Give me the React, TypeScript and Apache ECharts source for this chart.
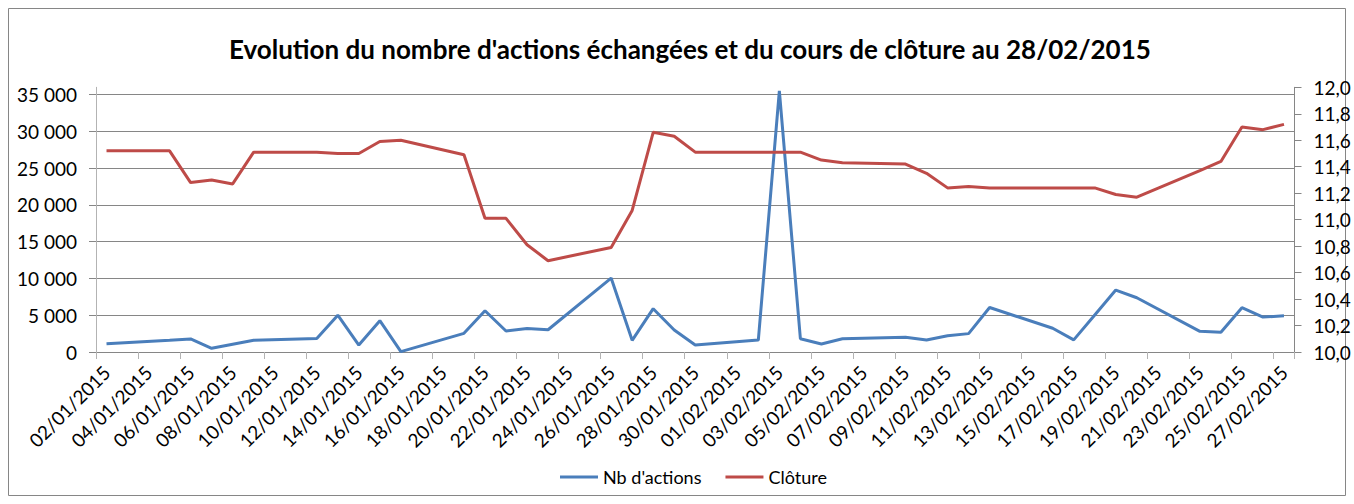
import React, { useEffect, useRef } from "react";
import * as echarts from "echarts";

// Calendar days of the axis (one category per day)
const dayLabels = [
  "02/01/2015","03/01/2015","04/01/2015","05/01/2015","06/01/2015","07/01/2015","08/01/2015","09/01/2015",
  "10/01/2015","11/01/2015","12/01/2015","13/01/2015","14/01/2015","15/01/2015","16/01/2015","17/01/2015",
  "18/01/2015","19/01/2015","20/01/2015","21/01/2015","22/01/2015","23/01/2015","24/01/2015","25/01/2015",
  "26/01/2015","27/01/2015","28/01/2015","29/01/2015","30/01/2015","31/01/2015",
  "01/02/2015","02/02/2015","03/02/2015","04/02/2015","05/02/2015","06/02/2015","07/02/2015","08/02/2015",
  "09/02/2015","10/02/2015","11/02/2015","12/02/2015","13/02/2015","14/02/2015","15/02/2015","16/02/2015",
  "17/02/2015","18/02/2015","19/02/2015","20/02/2015","21/02/2015","22/02/2015","23/02/2015","24/02/2015",
  "25/02/2015","26/02/2015","27/02/2015",
];

// Trading days
const tradingDays = [
  "02/01/2015","05/01/2015","06/01/2015","07/01/2015","08/01/2015","09/01/2015",
  "12/01/2015","13/01/2015","14/01/2015","15/01/2015","16/01/2015",
  "19/01/2015","20/01/2015","21/01/2015","22/01/2015","23/01/2015",
  "26/01/2015","27/01/2015","28/01/2015","29/01/2015","30/01/2015",
  "02/02/2015","03/02/2015","04/02/2015","05/02/2015","06/02/2015",
  "09/02/2015","10/02/2015","11/02/2015","12/02/2015","13/02/2015",
  "16/02/2015","17/02/2015","18/02/2015","19/02/2015","20/02/2015",
  "23/02/2015","24/02/2015","25/02/2015","26/02/2015","27/02/2015",
];

const nbActions = [
  1130, 1600, 1770, 500, 1050, 1590,
  1830, 5000, 950, 4260, 50,
  2540, 5610, 2850, 3210, 3030,
  10050, 1590, 5890, 2990, 950,
  1630, 35500, 1810, 1090, 1810,
  2000, 1630, 2220, 2500, 6050,
  3230, 1650, 5030, 8420, 7380,
  2810, 2680, 6020, 4750, 4930,
];

const cloture = [
  11.52, 11.52, 11.28, 11.30, 11.27, 11.51,
  11.51, 11.50, 11.50, 11.59, 11.60,
  11.49, 11.01, 11.01, 10.81, 10.69,
  10.79, 11.07, 11.66, 11.63, 11.51,
  11.51, 11.51, 11.51, 11.45, 11.43,
  11.42, 11.35, 11.24, 11.25, 11.24,
  11.24, 11.24, 11.24, 11.19, 11.17,
  11.37, 11.44, 11.70, 11.68, 11.72,
];

const FONT = "Lato";

export default function App() {
  const ref = useRef<HTMLDivElement>(null);

  useEffect(() => {
    if (!ref.current) return;
    const chart = echarts.init(ref.current, null, { renderer: "svg" });
    const fmtThousands = (v: number) =>
      String(Math.round(v)).replace(/\B(?=(\d{3})+(?!\d))/g, " ");
    chart.setOption({
      animation: false,
      backgroundColor: "#ffffff",
      textStyle: { fontFamily: FONT },
      title: {
        text: "Evolution du nombre d'actions échangées et du cours de clôture au 28/02/2015",
        left: 224,
        top: 31,
        textStyle: { fontFamily: FONT, fontWeight: "bold", fontSize: 26, color: "#000" },
      },
      legend: {
        bottom: 13,
        left: 555,
        icon: "rect",
        itemWidth: 38,
        itemHeight: 3,
        itemGap: 24,
        textStyle: { fontFamily: FONT, fontSize: 18, color: "#000" },
        data: ["Nb d'actions", "Clôture"],
      },
      graphic: [
        {
          type: "rect",
          shape: { x: 8.5, y: 8.5, width: 1337, height: 487 },
          style: { fill: "none", stroke: "#868686", lineWidth: 1 },
          silent: true,
        },
      ],
      grid: { left: 96, right: 59.5, top: 87.3, bottom: 152 },
      xAxis: {
        type: "category",
        data: dayLabels,
        boundaryGap: true,
        axisLine: { show: true, lineStyle: { color: "#868686" } },
        axisTick: { show: true, interval: 1, length: 7, lineStyle: { color: "#b3b3b3" } },
        axisLabel: {
          interval: 1,
          rotate: 45,
          margin: 17,
          fontFamily: FONT,
          fontSize: 19,
          color: "#000",
        },
        splitLine: { show: false },
      },
      yAxis: [
        {
          type: "value",
          min: 0,
          max: 36000,
          interval: 5000,
          axisLine: { show: true, lineStyle: { color: "#b3b3b3" } },
          axisTick: { show: true, length: 7, lineStyle: { color: "#868686" } },
          axisLabel: {
            margin: 19,
            fontFamily: FONT,
            fontSize: 19,
            color: "#000",
            showMaxLabel: false,
            formatter: fmtThousands,
          },
          splitLine: { show: true, showMaxLine: false, lineStyle: { color: "#868686" } },
        },
        {
          type: "value",
          min: 10,
          max: 12,
          interval: 0.2,
          position: "right",
          axisLine: { show: true, lineStyle: { color: "#868686" } },
          axisTick: { show: true, length: 7, lineStyle: { color: "#868686" } },
          axisLabel: {
            margin: 19,
            fontFamily: FONT,
            fontSize: 19,
            color: "#000",
            formatter: (v: number) => v.toFixed(1).replace(".", ","),
          },
          splitLine: { show: false },
        },
      ],
      series: [
        {
          name: "Nb d'actions",
          type: "line",
          yAxisIndex: 0,
          data: tradingDays.map((d, i) => [d, nbActions[i]]),
          showSymbol: false,
          symbol: "none",
          lineStyle: { width: 3, color: "#4A7EBB" },
          itemStyle: { color: "#4A7EBB" },
          clip: false,
        },
        {
          name: "Clôture",
          type: "line",
          yAxisIndex: 1,
          data: tradingDays.map((d, i) => [d, cloture[i]]),
          showSymbol: false,
          symbol: "none",
          lineStyle: { width: 3, color: "#BE4B48" },
          itemStyle: { color: "#BE4B48" },
          clip: false,
        },
      ],
    });
    return () => chart.dispose();
  }, []);

  return (
    <div
      ref={ref}
      style={{ position: "fixed", left: 0, top: 0, width: 1354, height: 504 }}
    />
  );
}
